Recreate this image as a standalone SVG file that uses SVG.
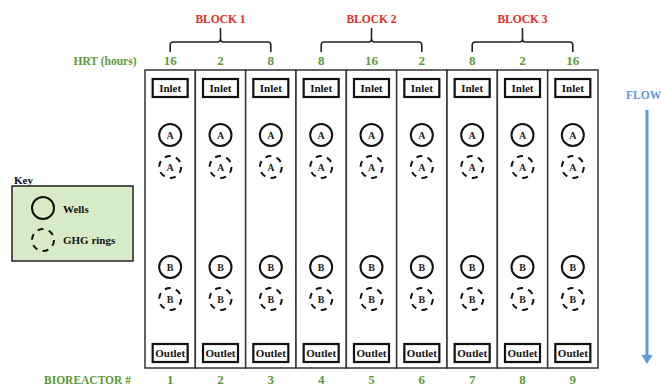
<svg xmlns="http://www.w3.org/2000/svg" width="661" height="386" viewBox="0 0 661 386" font-family="'Liberation Serif', 'Times New Roman', serif" font-weight="bold">
<defs>
<style>
text{font-family:'Liberation Serif','Times New Roman',serif;font-weight:700;}
.grn{fill:#5b9a3a;font-size:13px;text-anchor:middle;}
.gl{font-size:11.5px;}
.red{fill:#e0302a;font-size:11.5px;text-anchor:middle;}
.col{fill:#fff;stroke:#333;stroke-width:1.5;}
.box{fill:#fff;stroke:#111;stroke-width:2.2;}
.lbl{font-size:11px;fill:#111;text-anchor:middle;}
.well{fill:#fff;stroke:#111;stroke-width:2;}
.ghg{fill:#fff;stroke:#111;stroke-width:2;stroke-dasharray:6 5.5;}
.ltr{font-size:10px;fill:#222;text-anchor:middle;}
.brace{fill:none;stroke:#222;stroke-width:1.6;}
.key{font-size:11px;fill:#111;}
</style>
<g id="reactor">
<rect class="col" x="-25.17" y="70" width="50.33" height="298"/>
<rect class="box" x="-17.5" y="79" width="35" height="18"/>
<text class="lbl" x="0" y="92">Inlet</text>
<circle class="well" cx="0" cy="135" r="11"/>
<text class="ltr" x="0" y="138.5">A</text>
<circle class="ghg" cx="0" cy="167" r="11"/>
<text class="ltr" x="0" y="170.5">A</text>
<circle class="well" cx="0" cy="267" r="11"/>
<text class="ltr" x="0" y="270.5">B</text>
<circle class="ghg" cx="0" cy="299" r="11"/>
<text class="ltr" x="0" y="302.5">B</text>
<rect class="box" x="-17.5" y="344" width="35" height="18"/>
<text class="lbl" x="0" y="357">Outlet</text>
</g>
</defs>

<g id="header">
<text class="red" x="220.5" y="23">BLOCK 1</text>
<text class="red" x="371.5" y="23">BLOCK 2</text>
<text class="red" x="522.5" y="23">BLOCK 3</text>
<text class="grn gl" x="105" y="65">HRT (hours)</text>
</g>

<g id="braces">
<path class="brace" d="M170.2 52 L170.2 45 Q170.2 42 173.2 42 L217.5 42 Q220.5 42 220.5 39 L220.5 28 M220.5 39 Q220.5 42 223.5 42 L267.8 42 Q270.8 42 270.8 45 L270.8 52"/>
<path class="brace" d="M321.2 52 L321.2 45 Q321.2 42 324.2 42 L368.5 42 Q371.5 42 371.5 39 L371.5 28 M371.5 39 Q371.5 42 374.5 42 L418.8 42 Q421.8 42 421.8 45 L421.8 52"/>
<path class="brace" d="M472.2 52 L472.2 45 Q472.2 42 475.2 42 L519.5 42 Q522.5 42 522.5 39 L522.5 28 M522.5 39 Q522.5 42 525.5 42 L569.8 42 Q572.8 42 572.8 45 L572.8 52"/>
</g>

<g id="hrt">
<text class="grn" x="170.2" y="65">16</text>
<text class="grn" x="220.5" y="65">2</text>
<text class="grn" x="270.8" y="65">8</text>
<text class="grn" x="321.2" y="65">8</text>
<text class="grn" x="371.5" y="65">16</text>
<text class="grn" x="421.8" y="65">2</text>
<text class="grn" x="472.2" y="65">8</text>
<text class="grn" x="522.5" y="65">2</text>
<text class="grn" x="572.8" y="65">16</text>
</g>

<g id="bioreactor-1"><use href="#reactor" x="170.17"/></g>
<g id="bioreactor-2"><use href="#reactor" x="220.5"/></g>
<g id="bioreactor-3"><use href="#reactor" x="270.83"/></g>
<g id="bioreactor-4"><use href="#reactor" x="321.17"/></g>
<g id="bioreactor-5"><use href="#reactor" x="371.5"/></g>
<g id="bioreactor-6"><use href="#reactor" x="421.83"/></g>
<g id="bioreactor-7"><use href="#reactor" x="472.17"/></g>
<g id="bioreactor-8"><use href="#reactor" x="522.5"/></g>
<g id="bioreactor-9"><use href="#reactor" x="572.83"/></g>

<g id="numbers">
<text class="grn gl" x="87.5" y="384">BIOREACTOR #</text>
<text class="grn" x="170.2" y="384">1</text>
<text class="grn" x="220.5" y="384">2</text>
<text class="grn" x="270.8" y="384">3</text>
<text class="grn" x="321.2" y="384">4</text>
<text class="grn" x="371.5" y="384">5</text>
<text class="grn" x="421.8" y="384">6</text>
<text class="grn" x="472.2" y="384">7</text>
<text class="grn" x="522.5" y="384">8</text>
<text class="grn" x="572.8" y="384">9</text>
</g>

<g id="key">
<text class="key" x="14" y="184">Key</text>
<rect x="12" y="186" width="121" height="75" fill="#d8ebc9" stroke="#222" stroke-width="1.5"/>
<circle cx="43" cy="208" r="11" fill="none" stroke="#111" stroke-width="2"/>
<text class="key" x="63" y="213">Wells</text>
<circle cx="43" cy="240" r="11" fill="none" stroke="#111" stroke-width="2" stroke-dasharray="6 5.5"/>
<text class="key" x="63" y="244">GHG rings</text>
</g>

<g id="connectors">
<text x="626" y="99" font-size="11.5" fill="#5b9bd5">FLOW</text>
<line x1="647" y1="110" x2="647" y2="356" stroke="#5b9bd5" stroke-width="3"/>
<path d="M641.5 355 L652.5 355 L647 364 Z" fill="#5b9bd5"/>
</g>
</svg>
